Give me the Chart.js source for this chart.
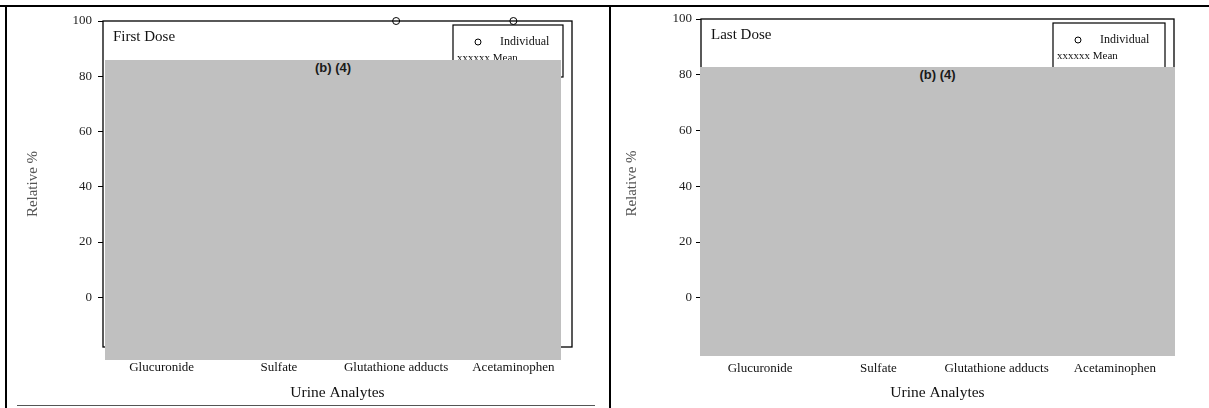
<!DOCTYPE html>
<html>
<head>
<meta charset="utf-8">
<script src="https://cdn.jsdelivr.net/npm/chart.js@4"></script>
<style>
  body { margin: 0; background: #fff; }
  .page { position: relative; width: 1209px; height: 408px; overflow: hidden; }
  canvas { position: absolute; top: 0; }
  .rule { position: absolute; background: #000; }
  .redact { position: absolute; background: #c0c0c0; text-align: center;
            font: bold 13px "Liberation Sans", Arial, sans-serif; color: #1a1a1a; line-height: 15px; }
</style>
</head>
<body>
<div class="page">
  <canvas id="first-dose" width="609" height="408" style="left:0"></canvas>
  <canvas id="last-dose" width="598" height="408" style="left:611px"></canvas>

  <!-- table rules of the scanned page -->
  <div class="rule" style="left:0; top:5px; width:1209px; height:2px"></div>
  <div class="rule" style="left:5px; top:5px; width:2px; height:403px"></div>
  <div class="rule" style="left:609px; top:5px; width:2px; height:403px"></div>
  <div class="rule" style="left:17px; top:405px; width:578px; height:1px; background:#555"></div>

  <!-- redaction boxes -->
  <div class="redact" style="left:105px; top:60px; width:456px; height:300px">(b) (4)</div>
  <div class="redact" style="left:700px; top:67px; width:475px; height:289px">(b) (4)</div>
</div>

<script>
const categories = ['Glucuronide', 'Sulfate', 'Glutathione adducts', 'Acetaminophen'];
const yTicks = [0, 20, 40, 60, 80, 100];

// only the points that show above the redaction can be read
const firstDoseIndividual = [null, null, 100, 100];
const firstDoseMean = [null, null, null, null];
const lastDoseIndividual = [null, null, null, null];
const lastDoseMean = [null, null, null, null];

const serif = '"Liberation Serif", "Times New Roman", serif';

const framePlugin = {
    id: 'frame',
    afterDraw(chart, args, opts) {
        const ctx = chart.ctx;
        const a = chart.chartArea;
        ctx.save();
        ctx.strokeStyle = '#000';
        ctx.lineWidth = 1.3;
        ctx.strokeRect(a.left, a.top, a.right - a.left, a.bottom - a.top);

        // panel name
        ctx.fillStyle = '#111';
        ctx.textBaseline = 'middle';
        ctx.font = '15px ' + serif;
        ctx.fillText(opts.title, a.left + 10, a.top + 16);

        // legend box
        const lx = a.right - opts.legendWidth - 9;
        const ly = a.top + 4;
        ctx.lineWidth = 1.2;
        ctx.strokeRect(lx, ly, opts.legendWidth, 52);
        const ds = chart.data.datasets;
        ctx.beginPath();
        ctx.lineWidth = 1;
        ctx.arc(lx + 25, ly + 17, 3, 0, Math.PI * 2);
        ctx.stroke();
        ctx.font = '12px ' + serif;
        ctx.fillText(ds[0].label, lx + 47, ly + 17);
        ctx.font = '11px ' + serif;
        ctx.fillText('xxxxxx ' + ds[1].label, lx + 4, ly + 33);
        ctx.restore();
    }
};

function makeChart(id, title, individual, mean, layout) {
    const ctx = document.getElementById(id).getContext('2d');
    return new Chart(ctx, {
        type: 'line',
        data: {
            labels: categories,
            datasets: [{
                label: 'Individual',
                data: individual,
                showLine: false,
                pointRadius: 3.5,
                pointBorderWidth: 1,
                pointBorderColor: '#000',
                pointBackgroundColor: 'rgba(255,255,255,0)',
                clip: false
            }, {
                label: 'Mean',
                data: mean,
                borderColor: '#000',
                borderWidth: 1,
                borderDash: [2, 2],
                pointRadius: 0
            }]
        },
        options: {
            responsive: false,
            animation: false,
            layout: { padding: { top: layout.top, right: layout.right, left: 0, bottom: 0 } },
            plugins: {
                legend: { display: false },
                tooltip: { enabled: false },
                frame: { title: title, legendWidth: layout.legendWidth }
            },
            scales: {
                x: {
                    offset: true,
                    grid: { display: false, drawTicks: false },
                    border: { display: false },
                    afterFit: (s) => { s.height = layout.xHeight; },
                    ticks: { padding: 13, maxRotation: 0, color: '#111', font: { family: serif, size: 13 } },
                    title: { display: true, text: 'Urine Analytes', color: '#111', padding: { top: 0, bottom: 6 },
                             font: { family: serif, size: 15.5 } }
                },
                y: {
                    min: -18,
                    max: 100,
                    afterBuildTicks: (s) => { s.ticks = yTicks.map(v => ({ value: v })); },
                    afterFit: (s) => { s.width = layout.yWidth; },
                    grid: { drawOnChartArea: false, drawTicks: true, tickLength: 5, color: '#000' },
                    border: { display: false },
                    ticks: { padding: layout.tickPad, color: '#222', font: { family: serif, size: 13 } },
                    title: { display: true, text: 'Relative %', color: '#555', padding: { top: layout.titlePad, bottom: 0 },
                             font: { family: serif, size: 15 } }
                }
            }
        },
        plugins: [framePlugin]
    });
}

makeChart('first-dose', 'First Dose', firstDoseIndividual, firstDoseMean,
    { top: 21, right: 37, yWidth: 103, xHeight: 61, tickPad: 6, titlePad: 24, legendWidth: 110 });
makeChart('last-dose', 'Last Dose', lastDoseIndividual, lastDoseMean,
    { top: 19, right: 35, yWidth: 90, xHeight: 60, tickPad: 4, titlePad: 12, legendWidth: 112 });
</script>
</body>
</html>
